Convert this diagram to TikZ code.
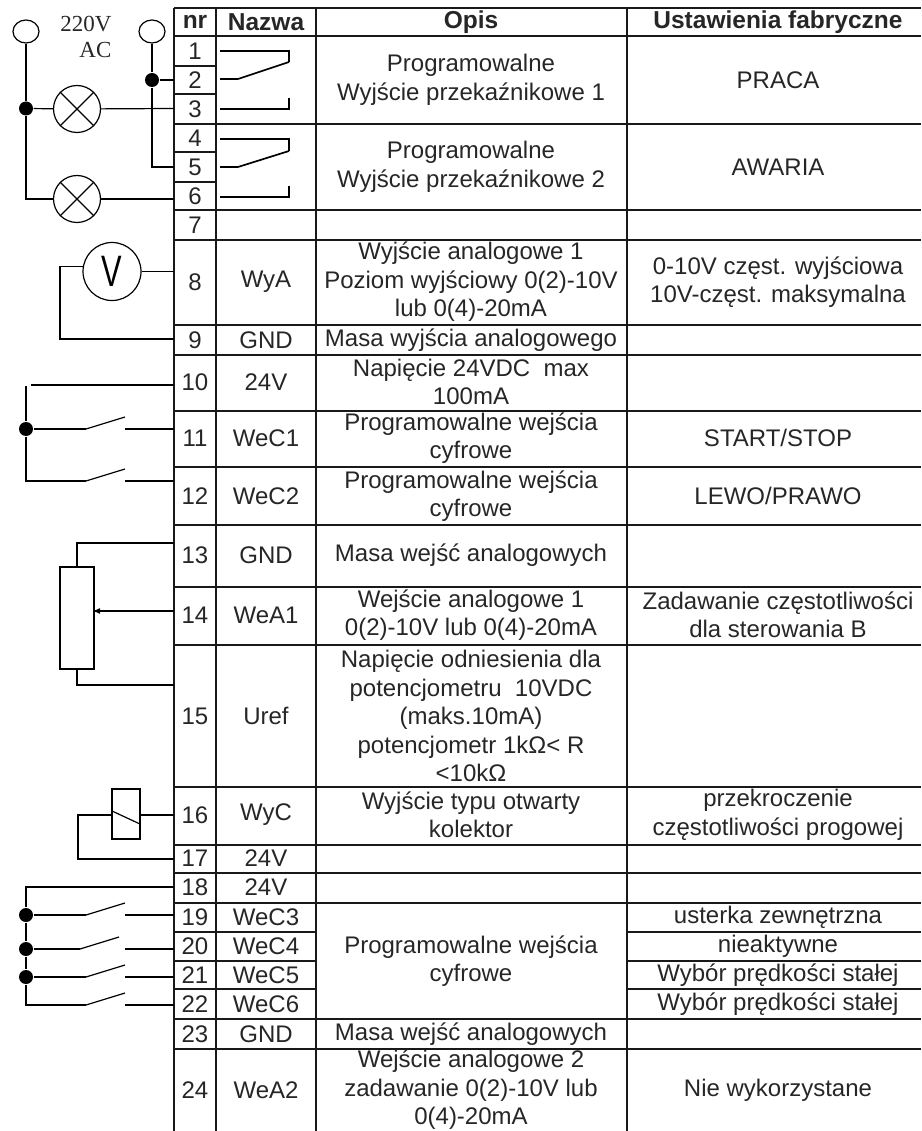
\documentclass[tikz,border=0pt]{standalone}
\usepackage{fontspec}
\setmainfont{Liberation Sans}
\newfontfamily\acfont{Liberation Serif}
\usetikzlibrary{arrows,shapes.geometric}

\begin{document}
\begin{tikzpicture}[-,>=stealth',x=1pt,y=-1pt,auto,line width=1.2pt,
  base node/.style={inner sep=0pt,align=center,text=black!85,font=\fontsize{24}{28.5}\selectfont},
  head node/.style={base node,font=\fontsize{24.5}{28.5}\selectfont\bfseries},
  nr node/.style={base node},
  name node/.style={base node,node distance=71pt},
  desc node/.style={base node,node distance=205pt},
  set node/.style={base node,node distance=307pt},
  term node/.style={ellipse,draw,inner sep=0pt,minimum width=26pt,minimum height=23pt},
  dot node/.style={circle,fill=black,inner sep=0pt,minimum size=14pt},
  lamp node/.style={circle,draw,inner sep=0pt,minimum size=47pt},
  grid line/.style={line width=1.6pt,black!90}]
  \useasboundingbox (0,0) rectangle (921,1131);

  \draw[grid line]
    (174,8) -- (921,8) (174,36) -- (921,36) (174,124) -- (921,124) (174,210) -- (921,210)
    (174,240) -- (921,240) (174,325) -- (921,325) (174,355) -- (921,355) (174,411) -- (921,411)
    (174,467) -- (921,467) (174,525) -- (921,525) (174,587) -- (921,587) (174,645) -- (921,645)
    (174,787) -- (921,787) (174,845) -- (921,845) (174,873) -- (921,873) (174,903) -- (921,903)
    (174,1019) -- (921,1019) (174,1049) -- (921,1049)
    (174,66) -- (216,66) (174,94) -- (216,94) (174,152) -- (216,152) (174,182) -- (216,182)
    (174,932) -- (316,932) (174,961) -- (316,961) (174,989) -- (316,989)
    (627,932) -- (921,932) (627,961) -- (921,961) (627,989) -- (921,989)
    (174,8) -- (174,1131) (216,8) -- (216,1131) (316,8) -- (316,1131) (627,8) -- (627,1131);

  \node[head node] (hnr) at (195,22) {nr};
  \node[head node] (hname) at (266,22) {Nazwa};
  \node[head node] (hdesc) at (471,22) {Opis};
  \node[head node] (hset) at (778,22) {Ustawienia fabryczne};

  \node[nr node] (r1) at (195,51) {1};
  \node[nr node] (r2) at (195,80) {2};
  \node[nr node] (r3) at (195,109) {3};
  \node[nr node] (r4) at (195,138) {4};
  \node[nr node] (r5) at (195,167) {5};
  \node[nr node] (r6) at (195,196) {6};
  \node[nr node] (r7) at (195,225) {7};
  \node[nr node] (r8) at (195,282) {8};
  \node[nr node] (r9) at (195,340) {9};
  \node[nr node] (r10) at (195,382) {10};
  \node[nr node] (r11) at (195,438) {11};
  \node[nr node] (r12) at (195,496) {12};
  \node[nr node] (r13) at (195,555) {13};
  \node[nr node] (r14) at (195,615) {14};
  \node[nr node] (r15) at (195,716) {15};
  \node[nr node] (r16) at (195,815) {16};
  \node[nr node] (r17) at (195,858) {17};
  \node[nr node] (r18) at (195,887) {18};
  \node[nr node] (r19) at (195,917) {19};
  \node[nr node] (r20) at (195,946) {20};
  \node[nr node] (r21) at (195,975) {21};
  \node[nr node] (r22) at (195,1004) {22};
  \node[nr node] (r23) at (195,1034) {23};
  \node[nr node] (r24) at (195,1090) {24};

  \node[name node] (n8) [right of=r8] {WyA};
  \node[name node] (n9) [right of=r9] {GND};
  \node[name node] (n10) [right of=r10] {24V};
  \node[name node] (n11) [right of=r11] {WeC1};
  \node[name node] (n12) [right of=r12] {WeC2};
  \node[name node] (n13) [right of=r13] {GND};
  \node[name node] (n14) [right of=r14] {WeA1};
  \node[name node] (n15) [right of=r15] {Uref};
  \node[name node] (n16) [right of=r16] {WyC};
  \node[name node] (n17) [right of=r17] {24V};
  \node[name node] (n18) [right of=r18] {24V};
  \node[name node] (n19) [right of=r19] {WeC3};
  \node[name node] (n20) [right of=r20] {WeC4};
  \node[name node] (n21) [right of=r21] {WeC5};
  \node[name node] (n22) [right of=r22] {WeC6};
  \node[name node] (n23) [right of=r23] {GND};
  \node[name node] (n24) [right of=r24] {WeA2};

  \node[desc node] (d1) at (471,80) {Programowalne\\Wyjście przekaźnikowe 1};
  \node[desc node] (d4) at (471,167) {Programowalne\\Wyjście przekaźnikowe 2};
  \node[desc node] (d8) [right of=n8] {Wyjście analogowe 1\\Poziom wyjściowy 0(2)-10V\\lub 0(4)-20mA};
  \node[desc node] (d9) [right of=n9] {Masa wyjścia analogowego};
  \node[desc node] (d10) [right of=n10] {Napięcie 24VDC~~max\\100mA};
  \node[desc node] (d11) [right of=n11] {Programowalne wejścia\\cyfrowe};
  \node[desc node] (d12) [right of=n12] {Programowalne wejścia\\cyfrowe};
  \node[desc node] (d13) [right of=n13] {Masa wejść analogowych};
  \node[desc node] (d14) [right of=n14] {Wejście analogowe 1\\0(2)-10V lub 0(4)-20mA};
  \node[desc node] (d15) [right of=n15] {Napięcie odniesienia dla\\potencjometru~~10VDC\\(maks.10mA)\\potencjometr 1kΩ< R\\<10kΩ};
  \node[desc node] (d16) [right of=n16] {Wyjście typu otwarty\\kolektor};
  \node[desc node] (d19) at (471,961) {Programowalne wejścia\\cyfrowe};
  \node[desc node] (d23) [right of=n23] {Masa wejść analogowych};
  \node[desc node] (d24) [right of=n24] {Wejście analogowe 2\\zadawanie 0(2)-10V lub\\0(4)-20mA};

  \node[set node] (s1) at (778,80) {PRACA};
  \node[set node] (s4) at (778,167) {AWARIA};
  \node[set node] (s8) [right of=d8] {0-10V częst. wyjściowa\\10V-częst. maksymalna};
  \node[set node] (s11) [right of=d11] {START/STOP};
  \node[set node] (s12) [right of=d12] {LEWO/PRAWO};
  \node[set node] (s14) [right of=d14] {Zadawanie częstotliwości\\dla sterowania B};
  \node[set node] (s16) [right of=d16] {przekroczenie\\częstotliwości progowej};
  \node[set node] (s19) at (778,917) {usterka zewnętrzna};
  \node[set node] (s20) at (778,946) {nieaktywne};
  \node[set node] (s21) at (778,975) {Wybór prędkości stałej};
  \node[set node] (s22) at (778,1004) {Wybór prędkości stałej};
  \node[set node] (s24) [right of=d24] {Nie wykorzystane};

  \draw (220,51) -- (289,51) -- (289,62);
  \draw (220,79) -- (238,79);
  \draw[line width=1.7pt] (238,79) -- (289,62);
  \draw (220,109) -- (289,109) -- (289,98);
  \draw (220,139) -- (289,139) -- (289,151);
  \draw (220,167) -- (238,167);
  \draw[line width=1.7pt] (238,167) -- (289,151);
  \draw (220,197) -- (289,197) -- (289,186);

  \node[base node,font=\fontsize{23}{26}\acfont,align=right,anchor=east] (ac) at (112,37) {220V\\AC};
  \node[term node] (t1) at (26,31.5) {};
  \node[term node] (t2) at (152,31.5) {};
  \node[dot node] (j1) at (26,108.5) {};
  \node[dot node] (j2) at (152,80) {};
  \node[lamp node] (l1) at (77,109) {};
  \node[lamp node] (l2) at (77,199) {};
  \node[circle,draw,inner sep=0pt,minimum size=58pt,font=\fontsize{44}{44}\selectfont] (vm) at (112,271.5) {\scalebox{0.7}[1]{V}};
  \coordinate (p2) at (174,80);
  \coordinate (p3) at (174,108.5);
  \coordinate (p5) at (174,167);
  \coordinate (p6) at (174,199);
  \coordinate (p8) at (174,271.5);
  \coordinate (p9) at (174,339);
  \path (t1) edge (j1)
    (j1) edge (l1)
    (l1) edge (p3)
    (t2) edge (j2)
    (j2) edge (p2)
    (l2) edge (p6)
    (vm) edge (p8);
  \draw (l1.north west) -- (l1.south east) (l1.north east) -- (l1.south west);
  \draw (l2.north west) -- (l2.south east) (l2.north east) -- (l2.south west);
  \draw (j1) |- (l2);
  \draw (j2) |- (p5);
  \draw (vm.170) -| (60,339) -- (p9);

  \node[dot node] (j3) at (26,429) {};
  \coordinate (v1) at (26,386);
  \coordinate (h1) at (31,385);
  \coordinate (p10) at (174,385);
  \coordinate (a11) at (86,429);
  \coordinate (b11) at (125,417);
  \coordinate (c11) at (125,429);
  \coordinate (p11) at (174,429);
  \coordinate (a12) at (86,481);
  \coordinate (b12) at (125,469);
  \coordinate (c12) at (125,481);
  \coordinate (p12) at (174,481);
  \path (h1) edge (p10)
    (v1) edge (j3)
    (j3) edge (a11)
    (a11) edge (b11)
    (c11) edge (p11)
    (a12) edge (b12)
    (c12) edge (p12);
  \draw (j3) |- (a12);

  \node[draw,inner sep=0pt,minimum width=34pt,minimum height=102pt] (pot) at (77,618) {};
  \coordinate (p13) at (174,543);
  \coordinate (p14) at (174,611);
  \coordinate (w14) at (94,611);
  \coordinate (p15) at (174,685);
  \draw (pot) |- (p13);
  \draw[->] (p14) -- (w14);
  \draw (pot) |- (p15);

  \node[draw,inner sep=0pt,minimum width=28pt,minimum height=50pt] (rel) at (126,814) {};
  \coordinate (p16) at (174,815);
  \coordinate (p17) at (174,859);
  \draw (rel.west |- p16) -- (78,815) |- (p17);
  \draw (rel.east |- p16) -- (p16);
  \draw (112,811) -- (140,824);

  \node[dot node] (j19) at (26,915) {};
  \node[dot node] (j20) at (26,949) {};
  \node[dot node] (j21) at (26,977) {};
  \coordinate (p18) at (174,887);
  \coordinate (a19) at (86,915);
  \coordinate (b19) at (125,903);
  \coordinate (c19) at (125,915);
  \coordinate (p19) at (174,915);
  \coordinate (a20) at (80,949);
  \coordinate (b20) at (119,937);
  \coordinate (c20) at (125,949);
  \coordinate (p20) at (174,949);
  \coordinate (a21) at (86,977);
  \coordinate (b21) at (125,965);
  \coordinate (c21) at (125,977);
  \coordinate (p21) at (174,977);
  \coordinate (a22) at (86,1005);
  \coordinate (b22) at (125,993);
  \coordinate (c22) at (125,1005);
  \coordinate (p22) at (174,1005);
  \path (j19) edge (a19)
    (a19) edge (b19)
    (c19) edge (p19)
    (j20) edge (a20)
    (a20) edge (b20)
    (c20) edge (p20)
    (j21) edge (a21)
    (a21) edge (b21)
    (c21) edge (p21)
    (a22) edge (b22)
    (c22) edge (p22)
    (j19) edge (j20)
    (j20) edge (j21);
  \draw (p18) -| (j19);
  \draw (j21) |- (a22);
\end{tikzpicture}
\end{document}
